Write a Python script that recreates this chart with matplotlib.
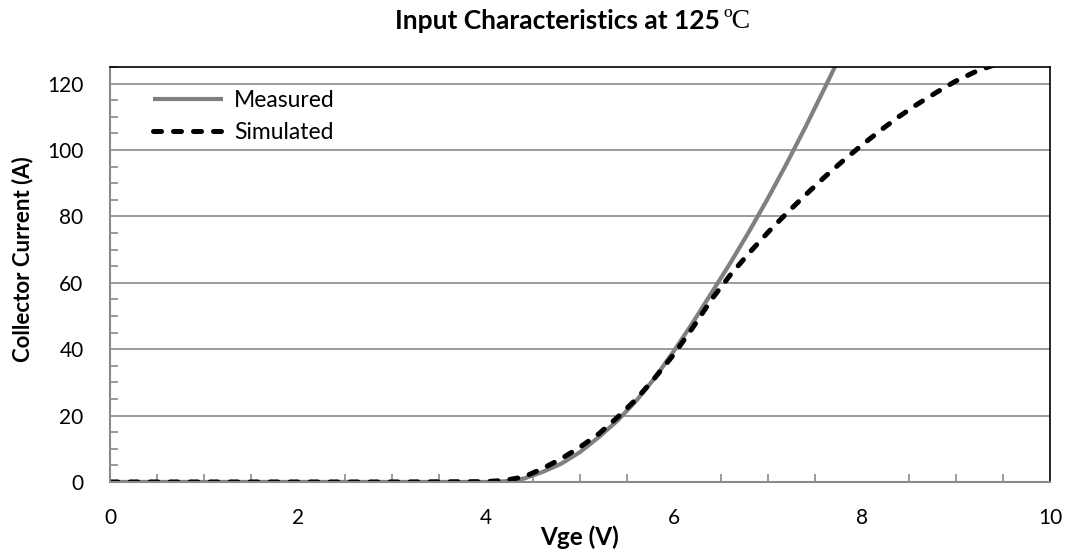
import matplotlib
matplotlib.use("Agg")
import matplotlib.pyplot as plt
from matplotlib.ticker import MultipleLocator

# ── data ───────────────────────────────────────────────────────────────────────
meas_vge = [0.0, 1.0, 2.0, 3.0, 4.0, 4.2, 4.4, 4.6, 4.8, 5.0, 5.2, 5.4, 5.6,
            5.8, 6.0, 6.2, 6.4, 6.6, 6.8, 7.0, 7.2, 7.4, 7.6, 7.72]
meas_ic = [0.0, 0.0, 0.0, 0.0, 0.0, 0.2, 1.0, 3.0, 5.5, 9.0, 13.5, 18.5, 24.5,
           31.5, 39.5, 48.0, 57.0, 66.0, 75.5, 85.5, 96.0, 107.0, 118.5, 125.5]

sim_vge = [0.0, 1.0, 2.0, 3.0, 4.0, 4.2, 4.4, 4.6, 4.8, 5.0, 5.2, 5.4, 5.6,
           5.8, 6.0, 6.2, 6.4, 6.6, 6.8, 7.0, 7.2, 7.4, 7.6, 7.8, 8.0, 8.2,
           8.4, 8.6, 8.8, 9.0, 9.2, 9.4]
sim_ic = [0.0, 0.0, 0.0, 0.0, 0.1, 0.5, 1.5, 4.0, 7.0, 10.5, 14.5, 19.5, 25.0,
          31.5, 38.5, 46.5, 55.0, 62.4, 69.0, 75.2, 81.0, 86.5, 91.8, 96.8, 101.5,
          106.0, 110.2, 114.0, 117.5, 120.8, 123.5, 125.6]

FONT = ["Lato", "DejaVu Sans"]
plt.rcParams["font.family"] = FONT

fig = plt.figure(figsize=(10.69, 5.54), dpi=100)
ax = fig.add_axes([0.1029, 0.130, 0.8793, 0.749])

ax.plot(meas_vge, meas_ic, color="#808080", linewidth=3.0, label="Measured",
        solid_capstyle="butt")
ax.plot(sim_vge, sim_ic, color="black", linewidth=3.6, linestyle=(0, (1.6, 2.4)),
        dash_capstyle="round", label="Simulated")

ax.set_xlim(0, 10)
ax.set_ylim(0, 125)
ax.xaxis.set_major_locator(MultipleLocator(2))
ax.xaxis.set_minor_locator(MultipleLocator(0.5))
ax.yaxis.set_major_locator(MultipleLocator(20))
ax.yaxis.set_minor_locator(MultipleLocator(5))

ax.grid(axis="y", which="major", color="#8a8a8a", linewidth=1.2)
ax.set_axisbelow(True)

for side in ("left", "bottom"):
    ax.spines[side].set_color("#8a8a8a")
    ax.spines[side].set_linewidth(1.5)
for side in ("top", "right"):
    ax.spines[side].set_color("black")
    ax.spines[side].set_linewidth(1.2)

ax.tick_params(which="both", direction="in", color="#8a8a8a", width=1.2,
               labelsize=15, top=False, right=False)
ax.tick_params(which="major", length=0)
ax.tick_params(which="minor", length=6)
ax.tick_params(axis="y", pad=19)
ax.tick_params(axis="x", pad=19)

ax.set_xlabel("Vge (V)", fontsize=17.5, fontweight="bold", va="center")
ax.xaxis.set_label_coords(0.5, -0.1325)
ax.set_ylabel("Collector Current (A)", fontsize=16, fontweight="bold", va="center")
ax.yaxis.set_label_coords(-0.0936, 0.537)

fig.text(0.6735, 0.962, "Input Characteristics at 125", fontsize=19,
         fontweight="bold", ha="right", va="center")
fig.text(0.6765, 0.962, "ºC", fontsize=20, family=["Liberation Serif", "DejaVu Serif"],
         ha="left", va="center")

ax.legend(loc="center left", bbox_to_anchor=(0.0457, 0.881), frameon=False,
          fontsize=16.5, handlelength=3.05, handletextpad=0.5, labelspacing=0.5,
          borderpad=0.0, borderaxespad=0.0)

fig.savefig("out.png", dpi=100)
